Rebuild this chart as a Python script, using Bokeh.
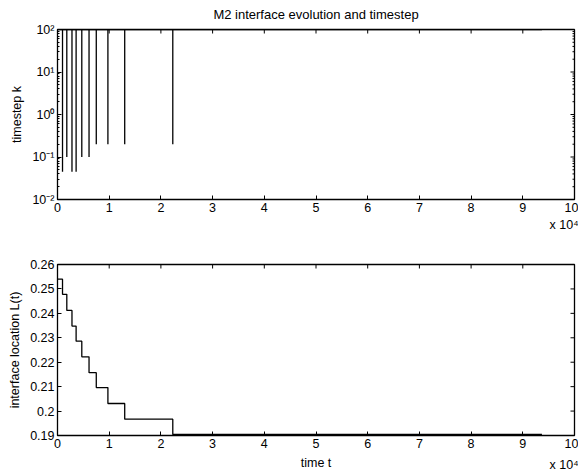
import math
from bokeh.plotting import figure
from bokeh.layouts import column
from bokeh.models import FixedTicker, LogTicker, CustomJSTickFormatter, Range1d, Title
from bokeh.embed import file_html
from bokeh.resources import INLINE

# ---- data (time in seconds) ----
event_t = [0.097e4, 0.18e4, 0.28e4, 0.36e4, 0.47e4, 0.61e4, 0.75e4, 0.975e4, 1.30e4, 2.23e4]
event_k_min = [0.045, 0.1, 0.045, 0.045, 0.1, 0.1, 0.2, 0.2, 0.2, 0.2]
k_max = 100.0
t_end = 9.37e4
L_levels = [0.2540, 0.2478, 0.2412, 0.2348, 0.2286, 0.2222, 0.2157, 0.2096, 0.2031, 0.1967, 0.1904]
x_ticks = [0, 1e4, 2e4, 3e4, 4e4, 5e4, 6e4, 7e4, 8e4, 9e4, 10e4]
k_ticks = [0.01, 0.1, 1, 10, 100]
L_ticks = [0.19, 0.20, 0.21, 0.22, 0.23, 0.24, 0.25, 0.26]

FONT = "Liberation Sans"
FS = "12.5px"
FS_TITLE = "13px"

# timestep series
tk, kk = [0.0], [k_max]
for te, km in zip(event_t, event_k_min):
    tk += [te, te, te]
    kk += [k_max, km, k_max]
tk.append(t_end)
kk.append(k_max)

# interface location step series
bounds = [0.0] + event_t + [t_end]
tl, ll = [], []
for i, L in enumerate(L_levels):
    tl += [bounds[i], bounds[i + 1]]
    ll += [L, L]

# minor log ticks (2..9 per decade)
k_minor = [m * d for d in k_ticks[:-1] for m in range(2, 10)]

xfmt = CustomJSTickFormatter(code="return String(Math.round(tick/1e4));")
logfmt = CustomJSTickFormatter(code="""
const e = Math.round(Math.log10(tick));
const sup = {'-':'\u207b','0':'\u2070','1':'\u00b9','2':'\u00b2','3':'\u00b3','4':'\u2074','5':'\u2075','6':'\u2076','7':'\u2077','8':'\u2078','9':'\u2079'};
return '10' + String(e).split('').map(c => sup[c]).join('');
""")
linfmt = CustomJSTickFormatter(code="return String(parseFloat(tick.toFixed(2)));")


def style_axis(ax):
    ax.major_tick_in = 4
    ax.major_tick_out = 0
    ax.minor_tick_in = 0
    ax.minor_tick_out = 0
    ax.axis_line_color = None
    ax.major_label_text_font = FONT
    ax.major_label_text_font_size = FS
    ax.major_label_text_color = "black"
    ax.major_label_standoff = 3
    ax.axis_label_text_font = FONT
    ax.axis_label_text_font_size = FS
    ax.axis_label_text_font_style = "normal"
    ax.axis_label_text_color = "black"


def base_fig(height, y_range, y_type, top, bottom):
    p = figure(width=578, height=height, x_range=Range1d(0, 1e5), y_range=y_range,
               y_axis_type=y_type, output_backend="svg", toolbar_location=None,
               min_border_left=57, min_border_right=4, min_border_top=top,
               min_border_bottom=bottom)
    p.outline_line_color = "black"
    p.outline_line_width = 1.3
    p.xgrid.visible = False
    p.ygrid.visible = False
    p.background_fill_color = "white"
    p.border_fill_color = "white"
    return p


def edge_ticks(p, xt, y_top, yt, x_right, size=8):
    # inward tick marks on the top and right frame edges (half outside is clipped)
    p.scatter(xt, [y_top] * len(xt), marker="dash", angle=math.pi / 2, size=size,
              line_color="black", line_width=1)
    p.scatter([x_right] * len(yt), yt, marker="dash", size=size,
              line_color="black", line_width=1)


def exp_title(p, standoff, valign):
    t = Title(text="x 10\u2074", align="right", offset=-4, standoff=standoff,
              vertical_align=valign,
              text_font=FONT, text_font_size=FS, text_font_style="normal",
              text_color="black")
    p.add_layout(t, "below")


# ---- top: timestep ----
p1 = base_fig(240, Range1d(0.01, 100), "log", 28, 41)
p1.line(tk, kk, line_color="black", line_width=1.3)
p1.title.text = "M2 interface evolution and timestep"
p1.title.align = "center"
p1.title.vertical_align = "top"
p1.title.text_font = FONT
p1.title.text_font_size = FS_TITLE
p1.title.text_font_style = "normal"
p1.title.text_color = "black"
p1.title.standoff = 12
p1.xaxis.ticker = FixedTicker(ticks=x_ticks)
p1.xaxis.formatter = xfmt
p1.yaxis.ticker = LogTicker(num_minor_ticks=10)
p1.yaxis.formatter = logfmt
p1.yaxis.axis_label = "timestep k"
style_axis(p1.xaxis[0])
style_axis(p1.yaxis[0])
p1.yaxis[0].minor_tick_in = 2
edge_ticks(p1, x_ticks[1:-1], 100, k_ticks[1:-1], 1e5)
p1.scatter([1e5] * len(k_minor), k_minor, marker="dash", size=4, line_color="black", line_width=1)
exp_title(p1, 2, "bottom")

# ---- bottom: interface location ----
p2 = base_fig(235, Range1d(0.19, 0.26), "linear", 24, 40)
p2.line(tl, ll, line_color="black", line_width=1.3)
p2.xaxis.ticker = FixedTicker(ticks=x_ticks)
p2.xaxis.formatter = xfmt
p2.xaxis.axis_label = "time t"
p2.yaxis.ticker = FixedTicker(ticks=L_ticks)
p2.yaxis.formatter = linfmt
p2.yaxis.axis_label = "interface location L(t)"
style_axis(p2.xaxis[0])
style_axis(p2.yaxis[0])
p2.xaxis[0].axis_label_standoff = 5
edge_ticks(p2, x_ticks[1:-1], 0.26, L_ticks[1:-1], 1e5)
exp_title(p2, -30, "top")

layout = column(p1, p2, spacing=0)
open("out.html", "w").write(file_html(layout, INLINE))
